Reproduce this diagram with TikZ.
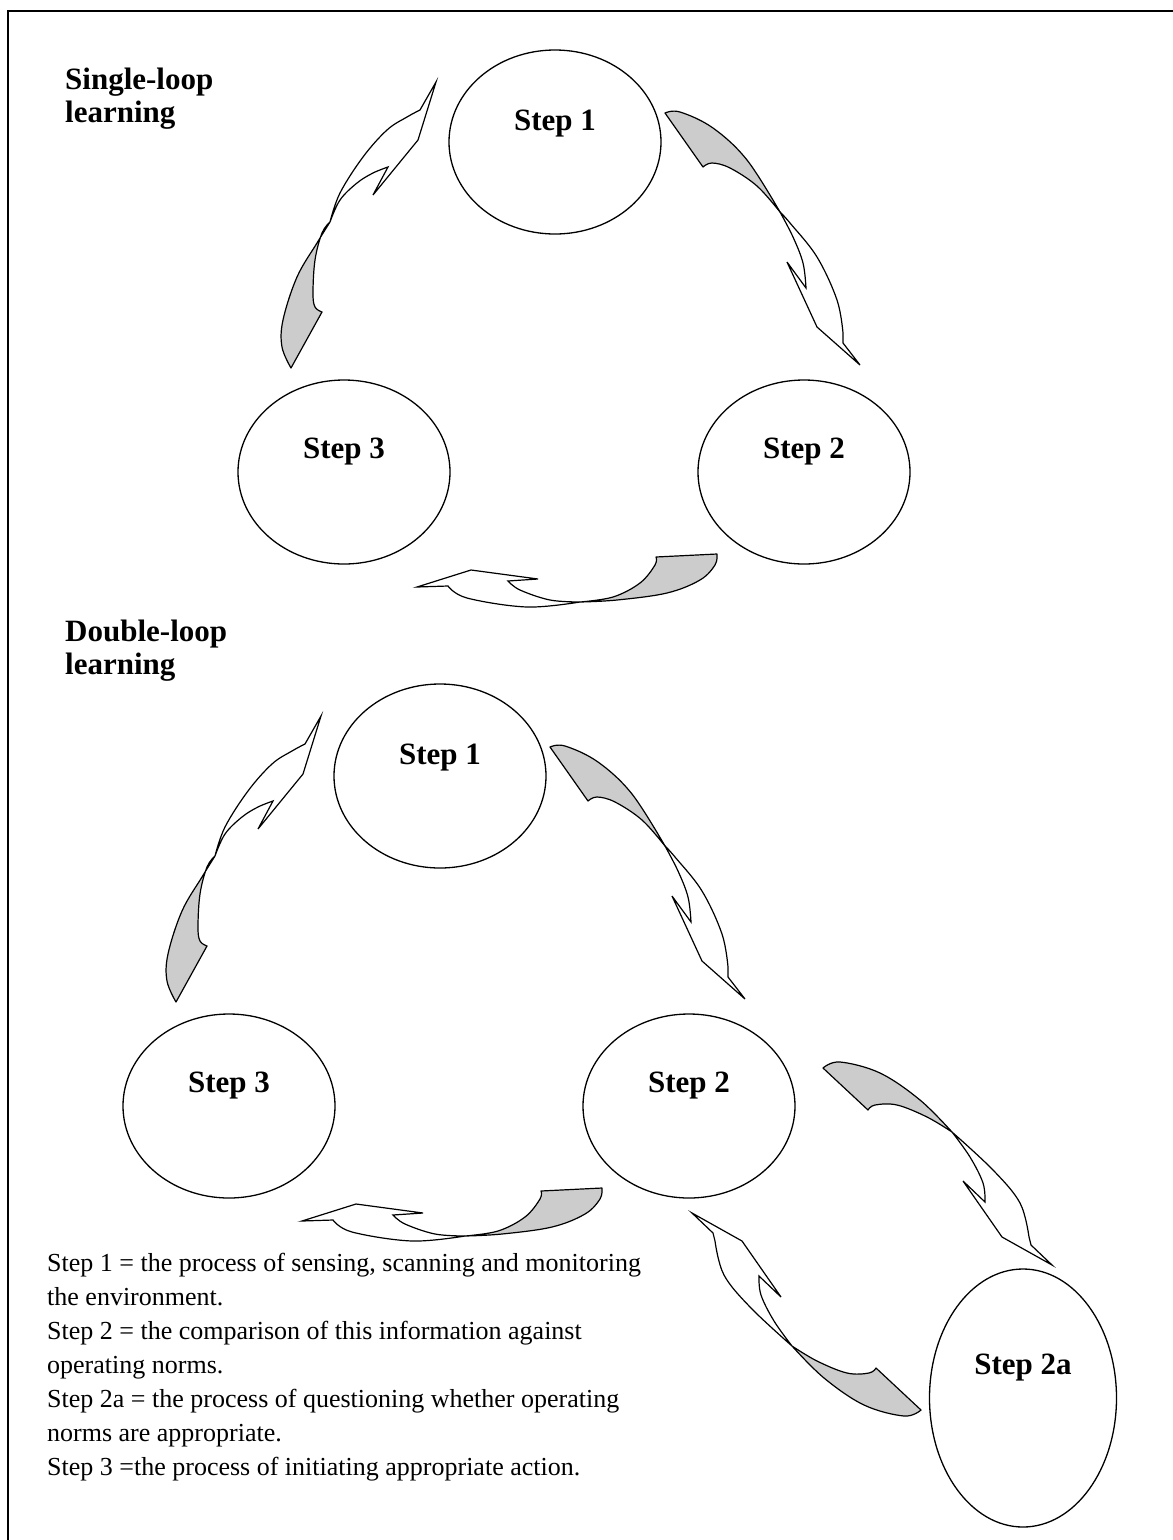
\documentclass[tikz,border=0pt]{standalone}
\usepackage{fontspec}
\setmainfont{Liberation Serif}
\usetikzlibrary{shapes.geometric}

\definecolor{tailgray}{RGB}{204,204,204}

\tikzset{
  stepnode/.style={ellipse, draw, line width=1.3pt, minimum width=212pt, minimum height=184pt, inner sep=0pt},
  steplabel/.style={font=\bfseries\fontsize{31}{33}\selectfont, inner sep=0pt},
  heading/.style={font=\bfseries\fontsize{31}{33}\selectfont, align=left, anchor=north west, inner sep=0pt},
  notes/.style={font=\fontsize{26}{34}\selectfont, align=left, anchor=north west, inner sep=0pt},
  tail/.style={fill=tailgray, draw, line width=1.2pt, line join=round},
  head/.style={fill=white, draw, line width=1.2pt, line join=miter},
  frame/.style={draw, line width=1.4pt}
}

% Twisted curved block arrow from Step 1 to Step 2
\newcommand{\arrowOneTwo}{%
  \path[tail] (665,113) -- (703,167)
    -- plot[smooth, tension=0.6] coordinates {(703,167) (712,163) (730,168) (757,186) (780,212)}
    -- plot[smooth, tension=0.6] coordinates {(780,212) (747,160) (713,128) (680,112) (665,113)} -- cycle;
  \path[head] (780,212)
    -- plot[smooth, tension=0.6] coordinates {(780,212) (793,237) (803,263) (806,288)}
    -- (787,262) -- (817,327) -- (860,365) -- (843,343) -- (843,333)
    -- plot[smooth, tension=0.6] coordinates {(843,333) (837,300) (817,257) (790,223) (780,212)} -- cycle;
}
% Twisted curved block arrow from Step 2 to Step 3
\newcommand{\arrowTwoThree}{%
  \path[tail] (717,554) -- (656,557)
    -- plot[smooth, tension=0.6] coordinates {(656,557) (655,565) (640,583) (613,597) (580,602)}
    -- plot[smooth, tension=0.6] coordinates {(580,602) (617,600) (667,593) (700,580) (715,565) (717,554)} -- cycle;
  \path[head] (580,602)
    -- plot[smooth, tension=0.6] coordinates {(580,602) (550,600) (520,590) (508,581)}
    -- (538,579) -- (471,570) -- (417,587) -- (448,586)
    -- plot[smooth, tension=0.6] coordinates {(448,586) (467,598) (527,607) (580,602)} -- cycle;
}
% Twisted curved block arrow from Step 3 to Step 1
\newcommand{\arrowThreeOne}{%
  \path[tail] (291,368) -- (322,312)
    -- plot[smooth, tension=0.6] coordinates {(322,312) (315,307) (313,293) (315,260) (322,233) (330,222)}
    -- plot[smooth, tension=0.6] coordinates {(330,222) (317,243) (297,277) (283,320) (282,347) (291,368)} -- cycle;
  \path[head] (330,222)
    -- plot[smooth, tension=0.6] coordinates {(330,222) (340,200) (357,183) (373,173) (388,167)}
    -- (373,195) -- (418,140) -- (436,82) -- (420,110)
    -- plot[smooth, tension=0.6] coordinates {(420,110) (407,117) (387,130) (363,157) (340,193) (330,222)} -- cycle;
}
% Twisted curved block arrow from Step 2 out to Step 2a
\newcommand{\arrowTwoOut}{%
  \path[tail] (823,1068) -- (868,1110)
    -- plot[smooth, tension=0.6] coordinates {(868,1110) (875,1105) (897,1105) (927,1117) (952,1132)}
    -- plot[smooth, tension=0.6] coordinates {(952,1132) (920,1100) (880,1073) (840,1062) (823,1068)} -- cycle;
  \path[head] (952,1132)
    -- plot[smooth, tension=0.6] coordinates {(952,1132) (970,1157) (983,1183) (985,1202)}
    -- (963,1181) -- (1002,1237) -- (1052,1265) -- (1031,1245) -- (1029,1237)
    -- plot[smooth, tension=0.6] coordinates {(1029,1237) (1020,1203) (993,1170) (952,1132)} -- cycle;
}

\begin{document}
\begin{tikzpicture}[x=1pt, y=-1pt]
  \useasboundingbox (0,0) rectangle (1173,1540);
  \begin{scope}
    \clip (0,0) rectangle (1173,1540);
    \path[frame] (8,11) rectangle (1200,1600);
  \end{scope}

  % ---- Single-loop learning ----
  \node[heading] (h1) at (65,68) {Single-loop\\learning};
  \node[stepnode] (a1) at (555,142) {};
  \node[stepnode] (a2) at (804,472) {};
  \node[stepnode] (a3) at (344,472) {};
  \node[steplabel] (a1t) at ([yshift=18pt]a1.center) {Step 1};
  \node[steplabel] (a2t) at ([yshift=20pt]a2.center) {Step 2};
  \node[steplabel] (a3t) at ([yshift=20pt]a3.center) {Step 3};
  \arrowOneTwo
  \arrowTwoThree
  \arrowThreeOne

  % ---- Double-loop learning ----
  \node[heading] (h2) at (65,620) {Double-loop\\learning};
  \begin{scope}[shift={(-115,634)}]
    \node[stepnode] (b1) at (555,142) {};
    \node[stepnode] (b2) at (804,472) {};
    \node[stepnode] (b3) at (344,472) {};
    \node[steplabel] (b1t) at ([yshift=18pt]b1.center) {Step 1};
    \node[steplabel] (b2t) at ([yshift=20pt]b2.center) {Step 2};
    \node[steplabel] (b3t) at ([yshift=20pt]b3.center) {Step 3};
    \arrowOneTwo
    \arrowTwoThree
    \arrowThreeOne
  \end{scope}

  \node[stepnode, minimum width=187pt, minimum height=258pt] (b4) at (1023,1398) {};
  \node[steplabel] (b4t) at ([yshift=30pt]b4.center) {Step 2a};

  % Step 2 -> Step 2a, and the same arrow turned round for Step 2a -> Step 2
  \arrowTwoOut
  \begin{scope}[rotate around={180:(872,1239)}]
    \arrowTwoOut
  \end{scope}

  % ---- Legend ----
  \node[notes] (legend) at (47,1253) {Step 1 = the process of sensing, scanning and monitoring\\
    the environment.\\
    Step 2 = the comparison of this information against\\
    operating norms.\\
    Step 2a = the process of questioning whether operating\\
    norms are appropriate.\\
    Step 3 =the process of initiating appropriate action.};
\end{tikzpicture}
\end{document}
